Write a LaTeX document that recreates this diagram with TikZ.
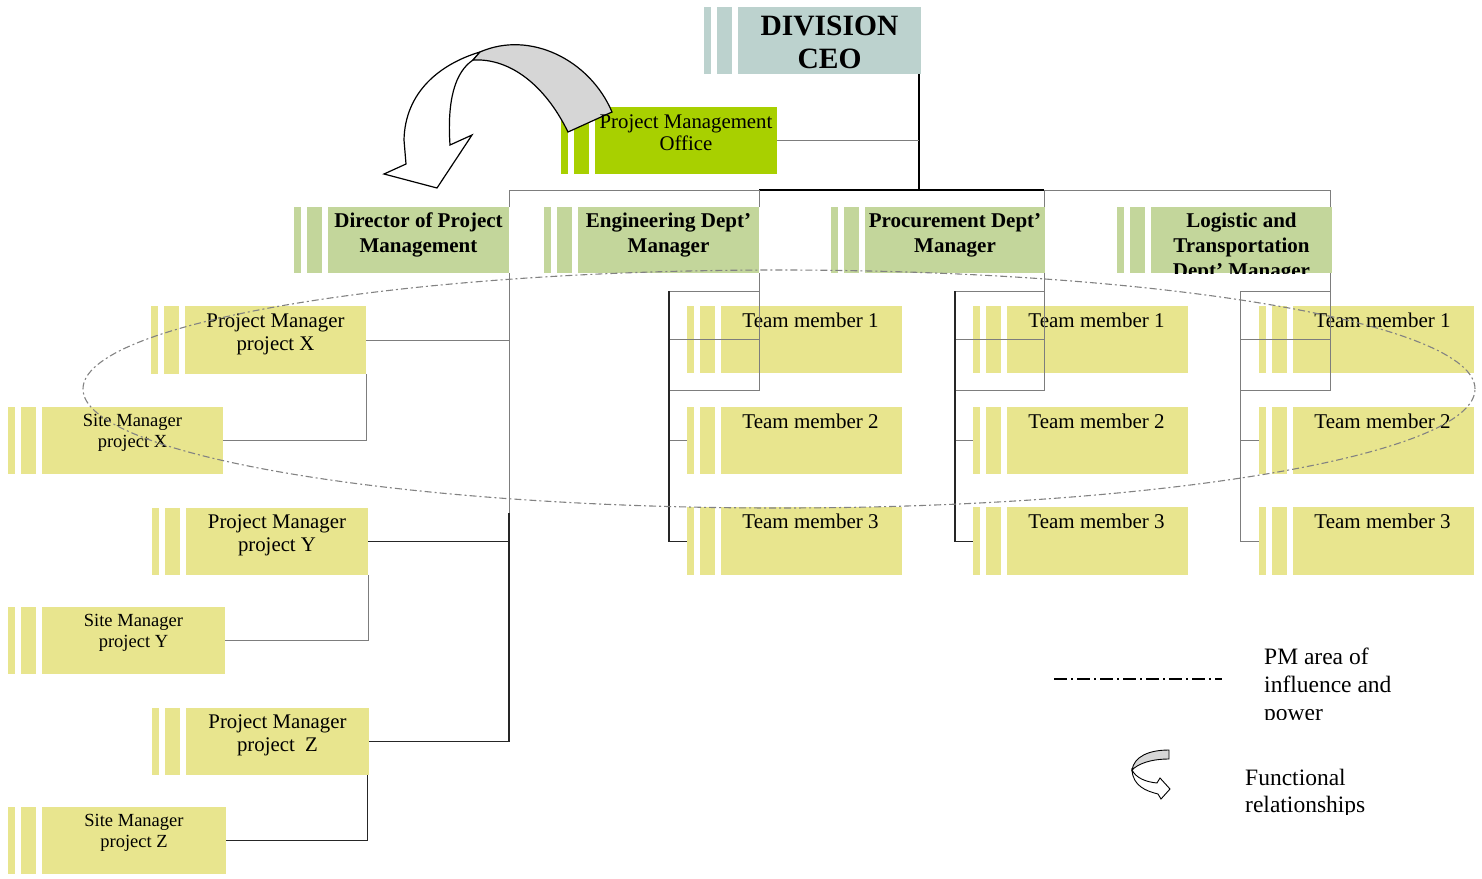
\documentclass[tikz,border=0pt]{standalone}
\usepackage{fontspec}
\setmainfont{Liberation Serif}
\definecolor{ceoC}{RGB}{188,210,206}
\definecolor{pmoC}{RGB}{168,208,0}
\definecolor{grnC}{RGB}{195,214,155}
\definecolor{ylwC}{RGB}{232,229,142}
\definecolor{lineC}{RGB}{125,125,125}
\definecolor{ellC}{RGB}{130,130,130}
\definecolor{arrC}{RGB}{214,214,214}
\newcommand\topstrut{\rule{0pt}{0.75em}}
% name, colour, left, right, top, bottom
\newcommand\orgbox[6]{%
  \node[fill=#2, inner sep=0, minimum width={(#4-#3)*1pt}, minimum height={(#6-#5)*1pt}, anchor=north west] (#1) at (#3,#5) {};
  \node[fill=#2, inner sep=0, minimum width=7pt, minimum height={(#6-#5)*1pt}, anchor=north west] (#1-s1) at (#3-34,#5) {};
  \node[fill=#2, inner sep=0, minimum width=15pt, minimum height={(#6-#5)*1pt}, anchor=north west] (#1-s2) at (#3-21,#5) {};
}
% [extra font], name, cx, first baseline, size, skip, text
\newcommand\boxtext[7][]{%
  \node[anchor=north, inner sep=0, align=center, font=\fontsize{#5}{#6}\selectfont#1] (#2) at (#3,#4-0.75*#5) {\topstrut#7};
}
\begin{document}
\begin{tikzpicture}[x=1pt,y=-1pt,
  conn/.style={draw=lineC, line width=1pt},
  dk/.style={draw=black!85, line width=1.1pt},
  blk/.style={draw=black, line width=1.6pt},
  arrowline/.style={draw=black, line width=1.2pt, line join=miter}]
\useasboundingbox (0,0) rectangle (1482,878);

% ---------- boxes ----------
\orgbox{ceo}{ceoC}{738}{921}{7}{74}
\orgbox{pmo}{pmoC}{595}{777}{107}{174}
\orgbox{dir}{grnC}{328}{509}{207}{273}
\orgbox{eng}{grnC}{578}{759}{207}{273}
\orgbox{pro}{grnC}{865}{1045}{207}{273}
\orgbox{log}{grnC}{1151}{1332}{207}{273}
\orgbox{pmx}{ylwC}{185}{366}{306}{374}
\orgbox{smx}{ylwC}{42}{223}{407}{474}
\orgbox{pmy}{ylwC}{186}{368}{508}{575}
\orgbox{smy}{ylwC}{42}{225}{607}{674}
\orgbox{pmz}{ylwC}{186}{369}{708}{775}
\orgbox{smz}{ylwC}{42}{226}{807}{874}
\orgbox{te1}{ylwC}{721}{902}{306}{373}
\orgbox{te2}{ylwC}{721}{902}{407}{474}
\orgbox{te3}{ylwC}{721}{902}{507}{575}
\orgbox{tp1}{ylwC}{1007}{1188}{306}{373}
\orgbox{tp2}{ylwC}{1007}{1188}{407}{474}
\orgbox{tp3}{ylwC}{1007}{1188}{507}{575}
\orgbox{tl1}{ylwC}{1293}{1474}{306}{373}
\orgbox{tl2}{ylwC}{1293}{1474}{407}{474}
\orgbox{tl3}{ylwC}{1293}{1474}{507}{575}

% ---------- functional relationship arrow ----------
\draw[arrowline, fill=white] (480,52) .. controls (440,64) and (405,92) .. (404,140)
  -- (406,164) -- (384,174) -- (437,188) -- (472,135) -- (450,145)
  .. controls (447,100) and (455,72) .. (473,60) -- cycle;
\draw[arrowline, fill=arrC] (473,60) -- (480,52) .. controls (530,30) and (590,60) .. (612,112)
  -- (568,132) .. controls (545,85) and (510,58) .. (473,60) -- cycle;

% ---------- texts ----------
\boxtext[\bfseries]{ceo-t}{829.5}{35}{29.5}{33}{DIVISION\\CEO}
\boxtext{pmo-t}{686}{128.5}{20.8}{22}{Project Management\\Office}
\boxtext[\bfseries]{dir-t}{418.5}{227.5}{21}{24.5}{Director of Project\\Management}
\boxtext[\bfseries]{eng-t}{668.5}{227.5}{21}{24.5}{Engineering Dept’\\Manager}
\boxtext[\bfseries]{pro-t}{955}{227.5}{21}{24.5}{Procurement Dept’\\Manager}
\begin{scope}
  \clip (log.north west) rectangle (log.south east);
  \boxtext[\bfseries]{log-t}{1241.5}{227}{21}{25}{Logistic and\\Transportation\\Dept’ Manager}
\end{scope}
\boxtext{pmx-t}{275.5}{327}{20.8}{23}{Project Manager\\project X}
\boxtext{pmy-t}{277}{528.5}{20.8}{23}{Project Manager\\project Y}
\boxtext{pmz-t}{277.5}{728.5}{20.8}{23}{Project Manager\\project~ Z}
\boxtext{smx-t}{132.5}{426}{18.5}{21}{Site Manager\\project X}
\boxtext{smy-t}{133.5}{626}{18.5}{21}{Site Manager\\project Y}
\boxtext{smz-t}{134}{826}{18.5}{21}{Site Manager\\project Z}
\boxtext{te1-t}{810.5}{327}{21}{23}{Team member 1}
\boxtext{te2-t}{810.5}{428}{21}{23}{Team member 2}
\boxtext{te3-t}{810.5}{528}{21}{23}{Team member 3}
\boxtext{tp1-t}{1096.5}{327}{21}{23}{Team member 1}
\boxtext{tp2-t}{1096.5}{428}{21}{23}{Team member 2}
\boxtext{tp3-t}{1096.5}{528}{21}{23}{Team member 3}
\boxtext{tl1-t}{1382.5}{327}{21}{23}{Team member 1}
\boxtext{tl2-t}{1382.5}{428}{21}{23}{Team member 2}
\boxtext{tl3-t}{1382.5}{528}{21}{23}{Team member 3}

% ---------- connectors ----------
\coordinate (bD) at (509,190);
\coordinate (bE) at (759,190);
\coordinate (bC) at (919,190);
\coordinate (bP) at (1044,190);
\coordinate (bL) at (1330,190);
\draw[blk] (ceo.south -| bC) -- (bC);
\draw[conn] (pmo.east) -- (pmo.east -| bC);
\draw[conn] (bD) -- (bE);
\draw[blk] (bE) -- (bP);
\draw[conn] (bP) -- (bL);
\draw[conn] (bD) -- (bD |- dir.north);
\draw[conn] (bE) -- (bE |- eng.north);
\draw[conn] (bP) -- (bP |- pro.north);
\draw[conn] (bL) -- (bL |- log.north);

% director branch
\coordinate (dm) at (509,513);
\draw[conn] (bD |- dir.south) -- (dm);
\draw[dk] (dm) -- (bD |- pmz.east);
\draw[conn] (pmx.east) -- (pmx.east -| bD);
\draw[dk] (pmy.east) -- (pmy.east -| bD);
\draw[dk] (pmz.east) -- (pmz.east -| bD);
\draw[conn] (pmx.south east) |- (smx.east);
\draw[conn] (pmy.south east) |- (smy.east);
\draw[dk] ([xshift=-2pt]pmz.south east) |- (smz.east);

% department teams
\coordinate (eTL) at (669,291); \coordinate (eBR) at (759,390);
\coordinate (pTL) at (955,291); \coordinate (pBR) at (1044,390);
\coordinate (lTL) at (1240,291); \coordinate (lBR) at (1330,390);
\draw[conn] (eBR |- eng.south) -- (eBR);
\draw[conn] (eTL) rectangle (eBR);
\draw[conn] (eTL |- te1.east) -- (eBR |- te1.east);
\draw[conn] (eTL |- te2.west) -- (te2-s1.west);
\draw[dk] (eTL) -- (eTL |- te3.west) -- (te3-s1.west);
\draw[conn] (pBR |- pro.south) -- (pBR);
\draw[conn] (pTL) rectangle (pBR);
\draw[conn] (pTL |- tp1.east) -- (pBR |- tp1.east);
\draw[conn] (pTL |- tp2.west) -- (tp2-s1.west);
\draw[dk] (pTL) -- (pTL |- tp3.west) -- (tp3-s1.west);
\draw[conn] (lBR |- log.south) -- (lBR);
\draw[conn] (lTL) rectangle (lBR);
\draw[conn] (lTL |- tl1.east) -- (lBR |- tl1.east);
\draw[conn] (lTL |- tl2.west) -- (tl2-s1.west);
\draw[conn] (lTL) -- (lTL |- tl3.west) -- (tl3-s1.west);

% ---------- PM area of influence ----------
\draw[draw=ellC, line width=1.1pt, dash pattern=on 7pt off 3pt on 2pt off 3pt]
  (779,389) ellipse [x radius=696pt, y radius=119pt];

% ---------- legend ----------
\coordinate (lgA) at (1054,679);
\coordinate (lgB) at (1222,679);
\draw[black, line width=1.3pt, dash pattern=on 13pt off 4pt on 2pt off 4pt] (lgA) -- (lgB);
\begin{scope}
  \clip (1240,630) rectangle (1482,719);
  \node[anchor=north west, inner sep=0, align=left, font=\fontsize{23.5}{28}\selectfont] (lg1-t) at (1264,664-0.75*23.5) {\topstrut PM area of\\influence and\\power};
\end{scope}
\draw[line width=0.9pt, fill=white, line join=miter] (1132,770) .. controls (1136,778) and (1146,782) .. (1157,783)
  -- (1160,778) -- (1170,789) -- (1161,799) -- (1158,794)
  .. controls (1146,791) and (1133,786) .. cycle;
\draw[line width=0.9pt, fill=arrC] (1169,750) .. controls (1148,750) and (1134,757) .. (1132,770)
  .. controls (1138,764) and (1150,759) .. (1169,759) -- cycle;
\begin{scope}
  \clip (1230,740) rectangle (1482,814);
  \node[anchor=north west, inner sep=0, align=left, font=\fontsize{23.5}{27}\selectfont] (lg2-t) at (1245,785-0.75*23.5) {\topstrut Functional\\relationships};
\end{scope}
\end{tikzpicture}
\end{document}
